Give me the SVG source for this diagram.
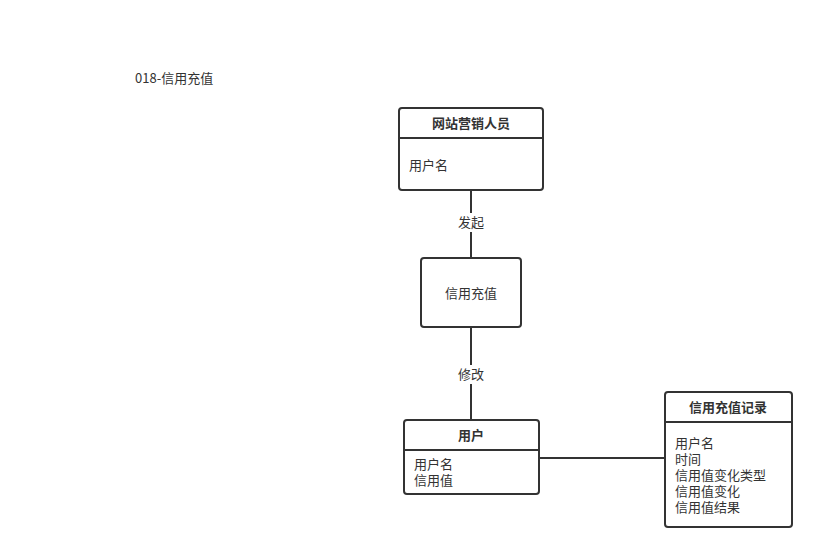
<svg xmlns="http://www.w3.org/2000/svg" width="823" height="560" viewBox="0 0 823 560">
<style>
text{font-family:"Noto Sans CJK SC","Noto Sans",sans-serif;font-size:13px;fill:#333}
.b{font-weight:bold}
.box{fill:#fff;stroke:#333;stroke-width:2}
.ln{stroke:#333;stroke-width:2;fill:none}
.lbl{fill:#fff;stroke:none}
</style>
<rect width="823" height="560" fill="#fff"/>
<text x="135" y="83">018-信用充值</text>
<g id="connectors">
<line class="ln" x1="471" y1="190" x2="471" y2="258"/>
<rect class="lbl" x="455" y="213" width="32" height="19"/>
<text x="471" y="227" text-anchor="middle">发起</text>
<line class="ln" x1="471" y1="327" x2="471" y2="420"/>
<rect class="lbl" x="455" y="365" width="32" height="19"/>
<text x="471" y="379" text-anchor="middle">修改</text>
<line class="ln" x1="539" y1="458" x2="665" y2="458"/>
</g>
<g id="marketer">
<rect class="box" x="399" y="108" width="144" height="82" rx="3"/>
<line class="ln" x1="399" y1="138" x2="543" y2="138"/>
<text class="b" x="471" y="128" text-anchor="middle">网站营销人员</text>
<text x="409" y="170">用户名</text>
</g>
<g id="recharge">
<rect class="box" x="421" y="258" width="100" height="69" rx="3"/>
<text x="471" y="298" text-anchor="middle">信用充值</text>
</g>
<g id="user">
<rect class="box" x="404" y="420" width="135" height="74" rx="3"/>
<line class="ln" x1="404" y1="450" x2="539" y2="450"/>
<text class="b" x="471" y="440" text-anchor="middle">用户</text>
<text x="414" y="469">用户名</text>
<text x="414" y="485">信用值</text>
</g>
<g id="record">
<rect class="box" x="665" y="392" width="127" height="135" rx="3"/>
<line class="ln" x1="665" y1="422" x2="792" y2="422"/>
<text class="b" x="728" y="412" text-anchor="middle">信用充值记录</text>
<text x="675" y="448">用户名</text>
<text x="675" y="464">时间</text>
<text x="675" y="480">信用值变化类型</text>
<text x="675" y="496">信用值变化</text>
<text x="675" y="512">信用值结果</text>
</g>
</svg>
